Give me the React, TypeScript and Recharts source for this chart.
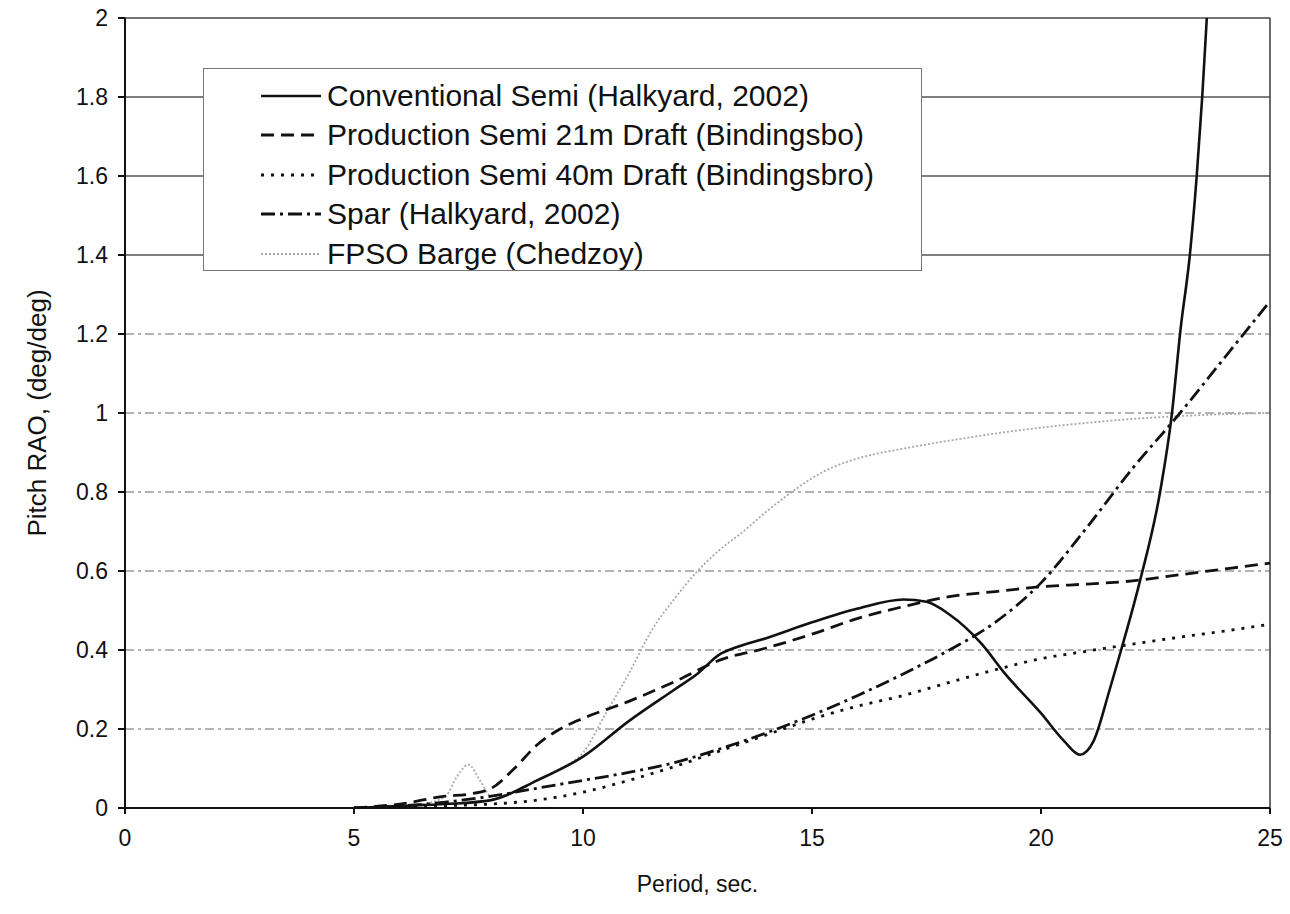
import React from 'react';
import {
  LineChart, Line, XAxis, YAxis, ReferenceLine, Legend
} from 'recharts';

// Conventional Semi (Halkyard, 2002)
const convPeriod = [5, 6, 7, 8, 9, 10, 11, 12, 12.5, 13, 13.3, 14, 15, 16, 17, 17.5, 18, 18.7, 19.2, 20, 20.5, 20.85, 21.15, 21.5, 21.75, 22.15, 22.6, 22.85, 23.05, 23.25, 23.4, 23.52, 23.62, 23.72];
const convRao = [0, 0.005, 0.01, 0.02, 0.07, 0.13, 0.22, 0.3, 0.34, 0.39, 0.405, 0.43, 0.47, 0.505, 0.528, 0.522, 0.49, 0.416, 0.342, 0.24, 0.17, 0.135, 0.17, 0.3, 0.4, 0.57, 0.8, 0.99, 1.215, 1.4, 1.6, 1.8, 2.0, 2.2];

// Production Semi 21m Draft
const semi21Period = [5, 6, 7, 7.5, 8, 8.5, 9, 9.5, 10, 11, 12, 13, 14, 15, 16, 17, 18, 19, 20, 21, 22, 23, 24, 25];
const semi21Rao = [0, 0.01, 0.03, 0.035, 0.05, 0.1, 0.16, 0.2, 0.227, 0.27, 0.32, 0.375, 0.405, 0.44, 0.48, 0.51, 0.535, 0.548, 0.56, 0.567, 0.575, 0.59, 0.605, 0.62];

// Production Semi 40m Draft
const semi40Period = [5, 6, 7, 8, 9, 10, 11, 12, 13, 14, 15, 16, 17, 18, 19, 20, 21, 22, 23, 24, 25];
const semi40Rao = [0, 0.003, 0.006, 0.01, 0.02, 0.04, 0.07, 0.105, 0.145, 0.185, 0.225, 0.258, 0.285, 0.318, 0.35, 0.378, 0.397, 0.415, 0.432, 0.448, 0.465];

// Spar (Halkyard, 2002)
const sparPeriod = [5, 6, 7, 8, 9, 10, 11, 12, 13, 14, 15, 16, 17, 18, 19, 20, 21, 22, 23, 24, 25];
const sparRao = [0, 0.005, 0.015, 0.03, 0.05, 0.07, 0.09, 0.115, 0.15, 0.19, 0.235, 0.285, 0.34, 0.4, 0.47, 0.57, 0.71, 0.86, 0.995, 1.139, 1.283];

// FPSO Barge (Chedzoy)
const fpsoPeriod = [3.7, 5, 6, 6.5, 7, 7.25, 7.5, 7.75, 8, 8.5, 9, 9.5, 10, 10.5, 11, 11.5, 12, 12.5, 13, 13.5, 14, 14.5, 15, 15.5, 16, 17, 18, 19, 20, 21, 22, 23, 24, 25];
const fpsoRao = [0, 0, 0.005, 0.01, 0.03, 0.08, 0.11, 0.07, 0.03, 0.04, 0.07, 0.1, 0.14, 0.24, 0.34, 0.45, 0.53, 0.6, 0.655, 0.7, 0.75, 0.795, 0.835, 0.865, 0.885, 0.91, 0.93, 0.948, 0.963, 0.975, 0.985, 0.992, 0.997, 1.0];

const xTicks = [0, 5, 10, 15, 20, 25];
const yTicks = [0, 0.2, 0.4, 0.6, 0.8, 1, 1.2, 1.4, 1.6, 1.8, 2];
const dashedGrid = [0.2, 0.4, 0.6, 0.8, 1, 1.2];
const solidGrid = [1.4, 1.6, 1.8];

const zip = (xs: number[], ys: number[]) => xs.map((t, i) => ({ t, v: ys[i] }));

const series = [
  { name: 'FPSO Barge (Chedzoy)', data: zip(fpsoPeriod, fpsoRao), color: '#a8a8a8', width: 1.8, dash: '2 2' },
  { name: 'Conventional Semi (Halkyard, 2002)', data: zip(convPeriod, convRao), color: '#111', width: 2.6, dash: undefined },
  { name: 'Production Semi 21m Draft (Bindingsbo)', data: zip(semi21Period, semi21Rao), color: '#111', width: 2.8, dash: '13 7' },
  { name: 'Production Semi 40m Draft (Bindingsbro)', data: zip(semi40Period, semi40Rao), color: '#111', width: 2.8, dash: '3 7' },
  { name: 'Spar (Halkyard, 2002)', data: zip(sparPeriod, sparRao), color: '#111', width: 2.8, dash: '14 5 3 5' },
];

const legendOrder = [1, 2, 3, 4, 0];

const LegendBox = () => (
  <div
    style={{
      width: 719, height: 203, border: '1.5px solid #777', background: '#fff',
      boxSizing: 'border-box', paddingTop: 7, fontFamily: '"Liberation Sans", Arial, sans-serif',
    }}
  >
    {legendOrder.map((i) => {
      const s = series[i];
      return (
        <div key={s.name} style={{ display: 'flex', alignItems: 'center', height: 39.5 }}>
          <svg width={60} height={10} style={{ marginLeft: 57, marginRight: 6 }}>
            <line x1={0} y1={5} x2={60} y2={5} stroke={s.color} strokeWidth={s.width}
              strokeDasharray={s.dash} />
          </svg>
          <span style={{ fontSize: 30, color: '#111', whiteSpace: 'nowrap' }}>{s.name}</span>
        </div>
      );
    })}
  </div>
);

export default function App() {
  return (
    <div style={{ position: 'absolute', left: 0, top: 0, background: '#fff', fontFamily: '"Liberation Sans", Arial, sans-serif' }}>
      <LineChart width={1290} height={914} margin={{ top: 18, right: 20, left: 0, bottom: 0 }}>
        {dashedGrid.map((y) => (
          <ReferenceLine key={'d' + y} y={y} stroke="#9a9a9a" strokeWidth={1.3} strokeDasharray="9 4 3 4" />
        ))}
        {solidGrid.map((y) => (
          <ReferenceLine key={'s' + y} y={y} stroke="#555" strokeWidth={1.6} />
        ))}
        <ReferenceLine y={2} stroke="#444" strokeWidth={1.6} />
        <ReferenceLine x={25} stroke="#444" strokeWidth={1.6} />
        <XAxis
          type="number" dataKey="t" domain={[0, 25]} ticks={xTicks} height={106}
          stroke="#111" strokeWidth={2} tickSize={6} tickMargin={16}
          tick={{ fill: '#111', fontSize: 23 }}
          label={{ value: 'Period, sec.', position: 'insideBottom', offset: 22, fill: '#111', fontSize: 23 }}
        />
        <YAxis
          type="number" dataKey="v" domain={[0, 2]} ticks={yTicks} allowDataOverflow width={125}
          stroke="#111" strokeWidth={2} tickSize={7} tickMargin={10}
          tick={{ fill: '#111', fontSize: 23 }}
          label={{ value: 'Pitch RAO, (deg/deg)', angle: -90, position: 'insideLeft', offset: 37, fill: '#111', fontSize: 26, style: { textAnchor: 'middle' } }}
        />
        <Legend
          layout="horizontal"
          verticalAlign="middle"
          align="center"
          content={() => <LegendBox />}
          wrapperStyle={{ left: 203, top: 68, width: 719, height: 203 }}
        />
        {series.map((s) => (
          <Line
            key={s.name}
            data={s.data}
            dataKey="v"
            name={s.name}
            type="monotone"
            stroke={s.color}
            strokeWidth={s.width}
            strokeDasharray={s.dash}
            dot={false}
            activeDot={false}
            isAnimationActive={false}
          />
        ))}
      </LineChart>
    </div>
  );
}
